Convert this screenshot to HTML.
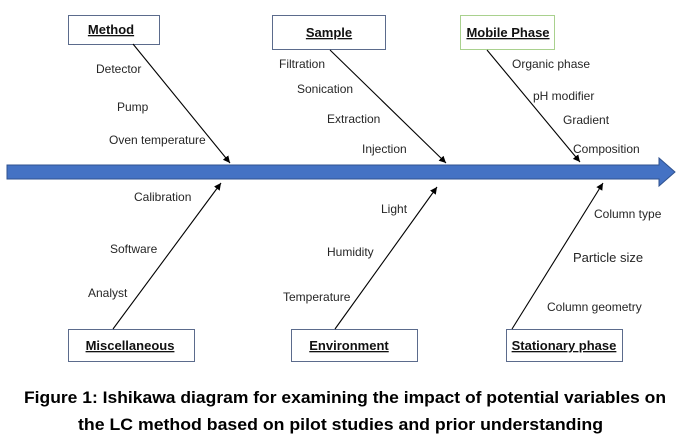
<!DOCTYPE html>
<html>
<head>
<meta charset="utf-8">
<style>
  html,body{margin:0;padding:0;background:#fff;}
  svg{display:block;}
  .t{font-family:"Liberation Sans",sans-serif;font-size:12px;fill:#262626;}
  .b{font-family:"Liberation Sans",sans-serif;font-size:13px;font-weight:bold;fill:#111;text-decoration:underline;}
  .c{font-family:"Liberation Sans",sans-serif;font-size:16.5px;font-weight:bold;fill:#000;}
</style>
</head>
<body>
<svg width="681" height="447" viewBox="0 0 681 447" xmlns="http://www.w3.org/2000/svg">
  <defs>
    <marker id="ah" markerWidth="8" markerHeight="8" refX="7" refY="4" orient="auto" markerUnits="userSpaceOnUse">
      <path d="M0,0.5 L7,4 L0,7.5 z" fill="#000"/>
    </marker>
  </defs>

  <!-- main arrow -->
  <polygon points="7,165 659,165 659,158 675,172 659,186 659,179 7,179" fill="#4472C4" stroke="#2F528F" stroke-width="1"/>

  <!-- top boxes -->
  <rect x="68.5" y="15.5" width="91" height="29" fill="#fff" stroke="#5b6b8c" stroke-width="1"/>
  <text class="b" x="111" y="34" text-anchor="middle">Method</text>

  <rect x="272.5" y="15.5" width="113" height="34" fill="#fff" stroke="#5b6b8c" stroke-width="1"/>
  <text class="b" x="329" y="37" text-anchor="middle">Sample</text>

  <rect x="460.5" y="15.5" width="94" height="34" fill="#fff" stroke="#a9d18e" stroke-width="1"/>
  <text class="b" x="508" y="37" text-anchor="middle">Mobile Phase</text>

  <!-- bottom boxes -->
  <rect x="68.5" y="329.5" width="126" height="32" fill="#fff" stroke="#5b6b8c" stroke-width="1"/>
  <text class="b" x="130" y="350" text-anchor="middle">Miscellaneous</text>

  <rect x="291.5" y="329.5" width="126" height="32" fill="#fff" stroke="#5b6b8c" stroke-width="1"/>
  <text class="b" x="349" y="350" text-anchor="middle">Environment</text>

  <rect x="506.5" y="329.5" width="116" height="32" fill="#fff" stroke="#5b6b8c" stroke-width="1"/>
  <text class="b" x="564" y="350" text-anchor="middle">Stationary phase</text>

  <!-- branch lines -->
  <g stroke="#000" stroke-width="1.1" fill="none" marker-end="url(#ah)">
    <line x1="133" y1="44" x2="230" y2="163"/>
    <line x1="330" y1="50" x2="446" y2="163"/>
    <line x1="487" y1="50" x2="580" y2="162"/>
    <line x1="113" y1="329" x2="221" y2="183"/>
    <line x1="335" y1="329" x2="437" y2="187"/>
    <line x1="512" y1="329" x2="603" y2="183"/>
  </g>

  <!-- labels -->
  <text class="t" x="96" y="73">Detector</text>
  <text class="t" x="117" y="111">Pump</text>
  <text class="t" x="109" y="144">Oven temperature</text>

  <text class="t" x="279" y="68">Filtration</text>
  <text class="t" x="297" y="93">Sonication</text>
  <text class="t" x="327" y="123">Extraction</text>
  <text class="t" x="362" y="153">Injection</text>

  <text class="t" x="512" y="68">Organic phase</text>
  <text class="t" x="533" y="100">pH modifier</text>
  <text class="t" x="563" y="124">Gradient</text>
  <text class="t" x="573" y="153">Composition</text>

  <text class="t" x="134" y="201">Calibration</text>
  <text class="t" x="110" y="253">Software</text>
  <text class="t" x="88" y="297">Analyst</text>

  <text class="t" x="381" y="213">Light</text>
  <text class="t" x="327" y="256">Humidity</text>
  <text class="t" x="283" y="301">Temperature</text>

  <text class="t" x="594" y="218">Column type</text>
  <text class="t" x="573" y="262" style="font-size:13px">Particle size</text>
  <text class="t" x="547" y="311">Column geometry</text>

  <!-- caption -->
  <text class="c" x="24" y="403" textLength="642" lengthAdjust="spacingAndGlyphs">Figure 1: Ishikawa diagram for examining the impact of potential variables on</text>
  <text class="c" x="78" y="430" textLength="525" lengthAdjust="spacingAndGlyphs">the LC method based on pilot studies and prior understanding</text>
</svg>
</body>
</html>
